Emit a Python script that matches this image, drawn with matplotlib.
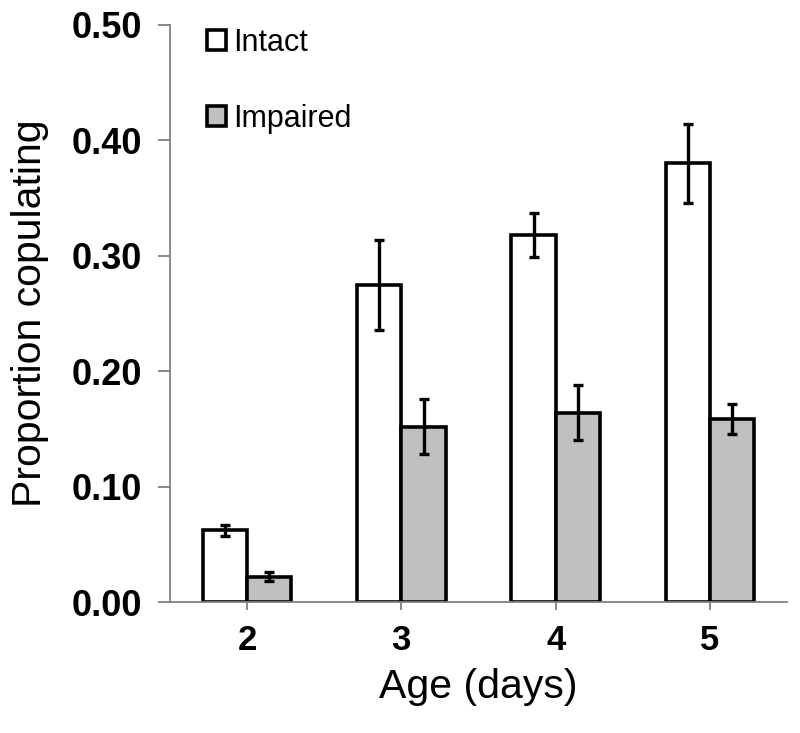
import numpy as np
import matplotlib.pyplot as plt

plt.rcParams['font.family'] = ['Liberation Sans', 'DejaVu Sans']

# data
ages = ["2", "3", "4", "5"]
intact = [0.062, 0.275, 0.318, 0.380]
intact_err = [0.005, 0.039, 0.019, 0.034]
impaired = [0.022, 0.152, 0.164, 0.159]
impaired_err = [0.004, 0.024, 0.024, 0.013]

x = np.arange(len(ages))
w = 0.287

fig = plt.figure(figsize=(8, 7.33), dpi=100)
ax = fig.add_axes([0.2125, 0.1787, 0.7713, 0.7872])

err_kw = dict(elinewidth=2.4, capsize=3.3, capthick=2.4, ecolor="black")
ax.bar(x - w / 2, intact, w, yerr=intact_err, color="white", edgecolor="black",
       linewidth=2.6, label="Intact", error_kw=err_kw)
ax.bar(x + w / 2, impaired, w, yerr=impaired_err, color="#c0c0c0", edgecolor="black",
       linewidth=2.6, label="Impaired", error_kw=err_kw)

ax.set_xlim(-0.5, 3.5)
ax.set_ylim(0, 0.5)
ax.set_xticks(x)
ax.set_xticklabels(ages, fontweight="bold")
ax.set_yticks(np.arange(0, 0.51, 0.1))
ax.set_yticklabels([f"{v:.2f}" for v in np.arange(0, 0.51, 0.1)], fontweight="bold")

for s in ["top", "right"]:
    ax.spines[s].set_visible(False)
for s in ["left", "bottom"]:
    ax.spines[s].set_color("#808080")
    ax.spines[s].set_linewidth(1.3)

ax.tick_params(axis="y", direction="out", length=9, width=1.3, color="#808080",
               labelsize=26, pad=11)
ax.tick_params(axis="x", direction="out", length=6, width=1.3, color="#808080",
               labelsize=25, pad=10)

ax.set_xlabel("Age (days)", fontsize=29.5, labelpad=8)
ax.set_ylabel("Proportion copulating", fontsize=29.5, labelpad=16)

ax.legend(loc="upper left", bbox_to_anchor=(0.06, 0.995), frameon=False,
          fontsize=22, handlelength=0.62, handleheight=0.62, handletextpad=0.25,
          labelspacing=1.5, borderpad=0, borderaxespad=0)

fig.savefig("out.png", dpi=100)
